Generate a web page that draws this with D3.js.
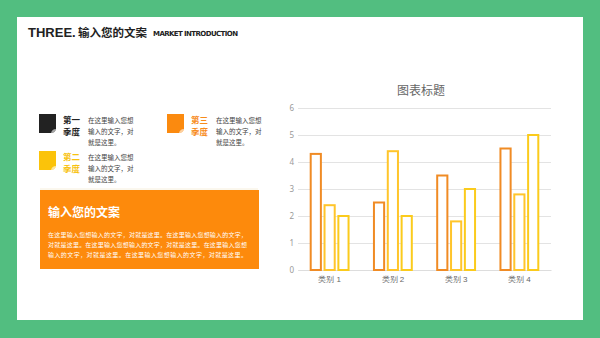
<!DOCTYPE html>
<html>
<head>
<meta charset="utf-8">
<script src="https://cdn.jsdelivr.net/npm/d3@7"></script>
<style>
  body { margin: 0; background: #52be80; }
  svg { display: block; font-family: "Noto Sans CJK SC", "Noto Sans", sans-serif; }
</style>
</head>
<body>
<svg id="page" width="600" height="338"></svg>
<script>
// chart data
var categories = ["类别 1", "类别 2", "类别 3", "类别 4"];
var seriesNames = ["系列 1", "系列 2", "系列 3"];
var series1 = [4.3, 2.5, 3.5, 4.5];
var series2 = [2.4, 4.4, 1.8, 2.8];
var series3 = [2, 2, 3, 5];
var yTicks = [0, 1, 2, 3, 4, 5, 6];

var descText = ["在这里输入您想", "输入的文字，对", "就是这里。"];
var bodyLines = [
  "在这里输入您想输入的文字，对就是这里。在这里输入您想输入的文字，",
  "对就是这里。在这里输入您想输入的文字，对就是这里。在这里输入您想",
  "输入的文字，对就是这里。在这里输入您想输入的文字，对就是这里。"
];

var svg = d3.select("#page");

// white panel
svg.append("rect")
  .attr("x", 17).attr("y", 17)
  .attr("width", 566).attr("height", 303)
  .attr("fill", "#fff");

// header
svg.append("text")
  .attr("x", 28).attr("y", 36.5)
  .attr("font-size", "13px")
  .attr("font-weight", "bold")
  .attr("font-family", "'Liberation Sans', sans-serif")
  .attr("fill", "#222")
  .text("THREE.");

svg.append("text")
  .attr("x", 78).attr("y", 36.5)
  .attr("font-size", "11.5px")
  .attr("font-weight", "bold")
  .attr("fill", "#222")
  .text("输入您的文案");

svg.append("text")
  .attr("x", 153).attr("y", 36)
  .attr("font-size", "7px")
  .attr("font-weight", "bold")
  .attr("font-family", "'DejaVu Sans', sans-serif")
  .attr("fill", "#222")
  .attr("textLength", 85)
  .text("MARKET INTRODUCTION");

// quarter blocks
var quarters = [
  {t1: "第一", t2: "季度", color: "#222222", tc: "#222222", x: 39, y: 114},
  {t1: "第二", t2: "季度", color: "#fbc30a", tc: "#f8c20f", x: 39, y: 151},
  {t1: "第三", t2: "季度", color: "#fb8a0f", tc: "#f78b1b", x: 167, y: 114}
];

quarters.forEach(function(q){
  var g = svg.append("g").attr("transform", "translate(" + q.x + "," + q.y + ")");
  // square with a folded bottom-right corner
  g.append("path")
    .attr("d", "M0,0 H17 V15 Q16,19 12,19 H0 Z")
    .attr("fill", q.color);
  g.append("path")
    .attr("d", "M17,15 Q13,15 12,19 Q16,19 17,15 Z")
    .attr("fill", "#fff").attr("opacity", 0.6);
  var t = g.append("text")
    .attr("font-size", "8.5px").attr("font-weight", "bold")
    .attr("fill", q.tc);
  t.append("tspan").attr("x", 24).attr("y", 8.8).text(q.t1);
  t.append("tspan").attr("x", 24).attr("y", 21.2).text(q.t2);
  var d = g.append("text")
    .attr("font-size", "6.5px")
    .attr("fill", "#444");
  d.selectAll("tspan")
    .data(descText)
    .enter().append("tspan")
      .attr("x", 49)
      .attr("y", function(s, i){ return 9 + i * 10.8; })
      .text(function(s){ return s; });
});

// divider
svg.append("line")
  .attr("x1", 40).attr("x2", 258)
  .attr("y1", 189).attr("y2", 189)
  .attr("stroke", "#f6efdc").attr("stroke-width", 1);

// orange box
svg.append("rect")
  .attr("x", 40).attr("y", 190)
  .attr("width", 219).attr("height", 79)
  .attr("fill", "#fd8a0c");

svg.append("text")
  .attr("x", 48).attr("y", 216.5)
  .attr("font-size", "12px").attr("font-weight", "bold")
  .attr("fill", "#fff")
  .text("输入您的文案");

svg.selectAll(".body")
  .data(bodyLines)
  .enter().append("text")
    .attr("x", 48)
    .attr("y", function(d, i){ return 236.5 + i * 10.2; })
    .attr("font-size", "6px")
    .attr("fill", "#fff")
    .attr("textLength", 199)
    .text(function(d){ return d; });

// chart
var x0 = d3.scaleBand()
  .domain(categories)
  .range([298, 551])
  .paddingInner(0.37)
  .paddingOuter(0.185);

var x1 = d3.scaleBand()
  .domain(seriesNames)
  .range([0, x0.bandwidth()])
  .paddingInner(0.12);

var y = d3.scaleLinear()
  .domain([0, 6])
  .range([270, 108]);

var colors = ["#f08b24", "#ffc52b", "#fbcb1c"];

svg.append("text")
  .attr("x", 421).attr("y", 94.5)
  .attr("text-anchor", "middle")
  .attr("font-size", "12px")
  .attr("fill", "#666")
  .text("图表标题");

// y axis with gridlines
var yAxis = svg.append("g")
  .attr("transform", "translate(298,0)")
  .call(d3.axisLeft(y).tickValues(yTicks).tickFormat(d3.format("d")).tickSize(-253).tickPadding(4));
yAxis.select(".domain").remove();
yAxis.selectAll(".tick line").attr("stroke", "#e3e3e3");
yAxis.selectAll(".tick text")
  .attr("fill", "#999").attr("font-size", "8px")
  .attr("font-family", "'Noto Sans', sans-serif");

// x axis
var xAxis = svg.append("g")
  .attr("transform", "translate(0,270)")
  .call(d3.axisBottom(x0).tickSize(0).tickPadding(6));
xAxis.select(".domain").attr("stroke", "#ddd");
xAxis.selectAll(".tick text")
  .attr("fill", "#666").attr("font-size", "8px");

var table = categories.map(function(c, i){
  return {cat: c, vals: [series1[i], series2[i], series3[i]]};
});

var groups = svg.selectAll(".grp")
  .data(table)
  .enter().append("g")
    .attr("transform", function(d){ return "translate(" + x0(d.cat) + ",0)"; });

groups.selectAll("rect")
  .data(function(d){ return d.vals.map(function(v, j){ return {name: seriesNames[j], v: v, j: j}; }); })
  .enter().append("rect")
    .attr("x", function(d){ return x1(d.name) + 1; })
    .attr("y", function(d){ return y(d.v); })
    .attr("width", x1.bandwidth() - 2)
    .attr("height", function(d){ return 270 - y(d.v); })
    .attr("fill", "#fff")
    .attr("stroke", function(d){ return colors[d.j]; })
    .attr("stroke-width", 2);
</script>
</body>
</html>
